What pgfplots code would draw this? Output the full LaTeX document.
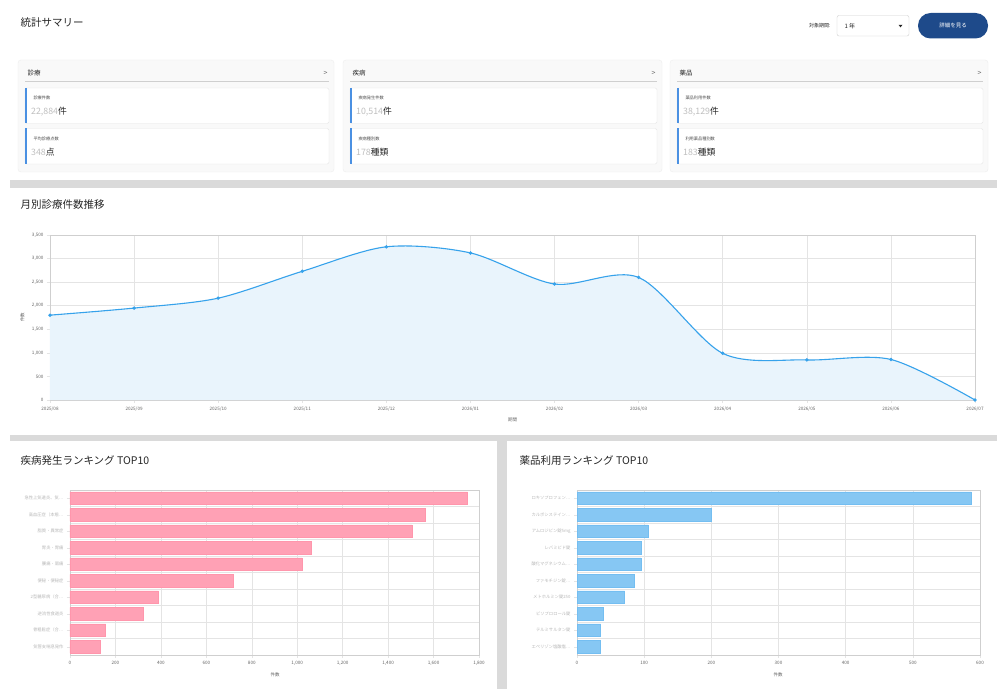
\documentclass[border=0pt]{standalone}
\usepackage{fontspec}
\setmainfont{Noto Sans CJK JP}
\usepackage{pgfplots}
\pgfplotsset{compat=1.18}

\definecolor{lineblue}{HTML}{36A2EB}
\definecolor{areablue}{HTML}{E9F4FC}
\definecolor{barpink}{HTML}{FFA1B5}
\definecolor{pinkedge}{HTML}{FF96AC}
\definecolor{barblue}{HTML}{86C7F3}
\definecolor{blueedge}{HTML}{74BEF1}
\definecolor{navy}{HTML}{1E4A8A}
\definecolor{band}{HTML}{DADADA}
\definecolor{gridc}{HTML}{E4E4E4}
\definecolor{axisc}{HTML}{CFCFCF}
\definecolor{tickc}{HTML}{666666}
\definecolor{accent}{HTML}{4A90E2}
\definecolor{cardbg}{HTML}{F9F9F9}
\definecolor{cardedge}{HTML}{EEEEEE}
\definecolor{boxedge}{HTML}{E6E6E6}
\definecolor{titlec}{HTML}{262626}

\pgfplotsset{
  dash/.style={
    scale only axis,
    axis line style={axisc, line width=0.5pt},
    grid style={gridc, line width=0.5pt},
    tick style={gridc, line width=0.5pt},
    major tick length=3pt,
    tick align=outside,
    tick pos=left,
    tick label style={font=\fontsize{4.6}{5.5}\selectfont, text=tickc},
    /pgf/number format/assume math mode=true,
    /pgf/number format/1000 sep={,},
  },
}

% summary card: left x, right x, heading
\newcommand{\statcard}[3]{%
  \fill[cardbg, draw=cardedge, rounded corners=3pt] (#1,60) rectangle (#2,172);
  \node[anchor=west, font=\fontsize{6.5}{7}\selectfont, text=titlec] at (#1+6,73) {#3};
  \node[anchor=east, font=\fontsize{7}{7}\selectfont, text=tickc] at (#2-3,73) {>};
  \draw[axisc, line width=0.5pt] (#1+7,81.5) -- (#2-5,81.5);
}
% figure box inside a card: left x, right x, top y, label, number, unit
\newcommand{\statbox}[6]{%
  \fill[white, draw=boxedge, rounded corners=1.5pt] (#1+7,#3) rectangle (#2-5,#3+35.5);
  \fill[accent] (#1+7,#3) rectangle (#1+8.6,#3+35.5);
  \node[anchor=west, font=\fontsize{4.2}{5}\selectfont, text=black!70] at (#1+12,#3+10) {#4};
  \node[anchor=west, inner sep=0pt, font=\fontsize{8.8}{9}\selectfont, text=titlec] at (#1+13,#3+24) {\textcolor{black!25}{#5}#6};
}

\begin{document}
\begin{tikzpicture}
\begin{scope}[x=1pt, y=-1pt]
  \useasboundingbox (0,0) rectangle (1000,695);
  \fill[white] (0,0) rectangle (1000,695);

  % page header
  \node[anchor=west, font=\fontsize{10.5}{11}\selectfont, text=titlec] at (17,22.5) {統計サマリー};
  \node[anchor=east, font=\fontsize{5}{6}\selectfont, text=titlec] at (834,26) {対象期間:};
  \draw[axisc, fill=white, rounded corners=2pt] (837,15.5) rectangle (909,36);
  \node[anchor=west, font=\fontsize{6}{7}\selectfont, text=titlec] at (841,26) {1 年};
  \fill[titlec] (898.5,24.8) -- (902.5,24.8) -- (900.5,27.3) -- cycle;
  \fill[navy, rounded corners=12.5pt] (918,13) rectangle (988,38.5);
  \node[font=\fontsize{5.5}{6}\selectfont, text=white] at (953,25.8) {詳細を見る};

  % summary cards
  \statcard{18}{334}{診療}
  \statbox{18}{334}{88}{診療件数}{22,884}{件}
  \statbox{18}{334}{128.5}{平均診療点数}{348}{点}
  \statcard{343}{662}{疾病}
  \statbox{343}{662}{88}{疾病発生件数}{10,514}{件}
  \statbox{343}{662}{128.5}{疾病種別数}{178}{種類}
  \statcard{670}{988}{薬品}
  \statbox{670}{988}{88}{薬品利用件数}{38,129}{件}
  \statbox{670}{988}{128.5}{利用薬品種別数}{183}{種類}

  % section separators
  \fill[band] (10,180) rectangle (997,188);
  \fill[band] (10,435) rectangle (997,441);
  \fill[band] (497,435) rectangle (507,689);

  % section titles
  \node[anchor=west, font=\fontsize{10.5}{11}\selectfont, text=titlec] at (17,205) {月別診療件数推移};
  \node[anchor=west, font=\fontsize{10.5}{11}\selectfont, text=titlec] at (17,461) {疾病発生ランキング TOP10};
  \node[anchor=west, font=\fontsize{10.5}{11}\selectfont, text=titlec] at (516,461) {薬品利用ランキング TOP10};

  % axis captions
  \node[rotate=90, font=\fontsize{4.5}{5}\selectfont, text=tickc] at (22.5,317) {件数};
  \node[font=\fontsize{4.5}{5}\selectfont, text=tickc] at (512.5,419.5) {期間};
  \node[font=\fontsize{4.5}{5}\selectfont, text=tickc] at (275,675) {件数};
  \node[font=\fontsize{4.5}{5}\selectfont, text=tickc] at (778,675) {件数};
\end{scope}

% monthly number of consultations
\begin{axis}[dash,
  at={(50pt,-400pt)}, anchor=south west,
  width=925pt, height=165pt,
  xmin=0, xmax=11, ymin=0, ymax=3500,
  xtick={0,...,11},
  xticklabels={2025/08,2025/09,2025/10,2025/11,2025/12,2026/01,2026/02,2026/03,2026/04,2026/05,2026/06,2026/07},
  ytick={0,500,...,3500},
  grid=major,
]
\addplot[draw=none, fill=areablue, smooth, tension=0.5] coordinates {
  (0,1800) (1,1950) (2,2160) (3,2730) (4,3250) (5,3120)
  (6,2460) (7,2600) (8,990) (9,850) (10,860) (11,0)
} \closedcycle;
\addplot[lineblue, line width=1.1pt, smooth, tension=0.5,
  mark=*, mark size=1.1pt, mark options={fill=lineblue, draw=lineblue}] coordinates {
  (0,1800) (1,1950) (2,2160) (3,2730) (4,3250) (5,3120)
  (6,2460) (7,2600) (8,990) (9,850) (10,860) (11,0)
};
\end{axis}

% disease ranking
\begin{axis}[dash,
  at={(70pt,-655pt)}, anchor=south west,
  width=409pt, height=165pt,
  xbar, bar width=12.6pt,
  xmin=0, xmax=1800, ymin=-0.5, ymax=9.5, y dir=reverse,
  xtick={0,200,...,1800},
  ytick={0,...,9},
  minor ytick={-0.5,0.5,...,9.5},
  xmajorgrids=true, yminorgrids=true,
  minor tick length=0pt,
  yticklabel style={text=black!28, font=\fontsize{4.3}{5}\selectfont},
  yticklabels={急性上気道炎、気…,高血圧症（本態…,脂質・異常症,胃炎・胃痛,腰痛・肩痛,便秘・便秘症,2型糖尿病（合…,逆流性食道炎,骨粗鬆症（合…,気管支喘息発作},
]
\addplot[fill=barpink, draw=pinkedge, line width=0.4pt] coordinates {
  (1750,0) (1565,1) (1505,2) (1063,3) (1022,4)
  (720,5) (389,6) (323,7) (157,8) (131,9)
};
\end{axis}

% drug ranking
\begin{axis}[dash,
  at={(577pt,-655pt)}, anchor=south west,
  width=403pt, height=165pt,
  xbar, bar width=12.6pt,
  xmin=0, xmax=600, ymin=-0.5, ymax=9.5, y dir=reverse,
  xtick={0,100,...,600},
  ytick={0,...,9},
  minor ytick={-0.5,0.5,...,9.5},
  xmajorgrids=true, yminorgrids=true,
  minor tick length=0pt,
  yticklabel style={text=black!28, font=\fontsize{4.3}{5}\selectfont},
  yticklabels={ロキソプロフェン…,カルボシステイン…,アムロジピン錠5mg,レバミピド錠,酸化マグネシウム…,ファモチジン錠…,メトホルミン錠250,ビソプロロール錠,テルミサルタン錠,エペリゾン塩酸塩…},
]
\addplot[fill=barblue, draw=blueedge, line width=0.4pt] coordinates {
  (587,0) (200,1) (106,2) (96,3) (95,4)
  (85,5) (71,6) (39,7) (35,8) (35,9)
};
\end{axis}
\end{tikzpicture}
\end{document}
